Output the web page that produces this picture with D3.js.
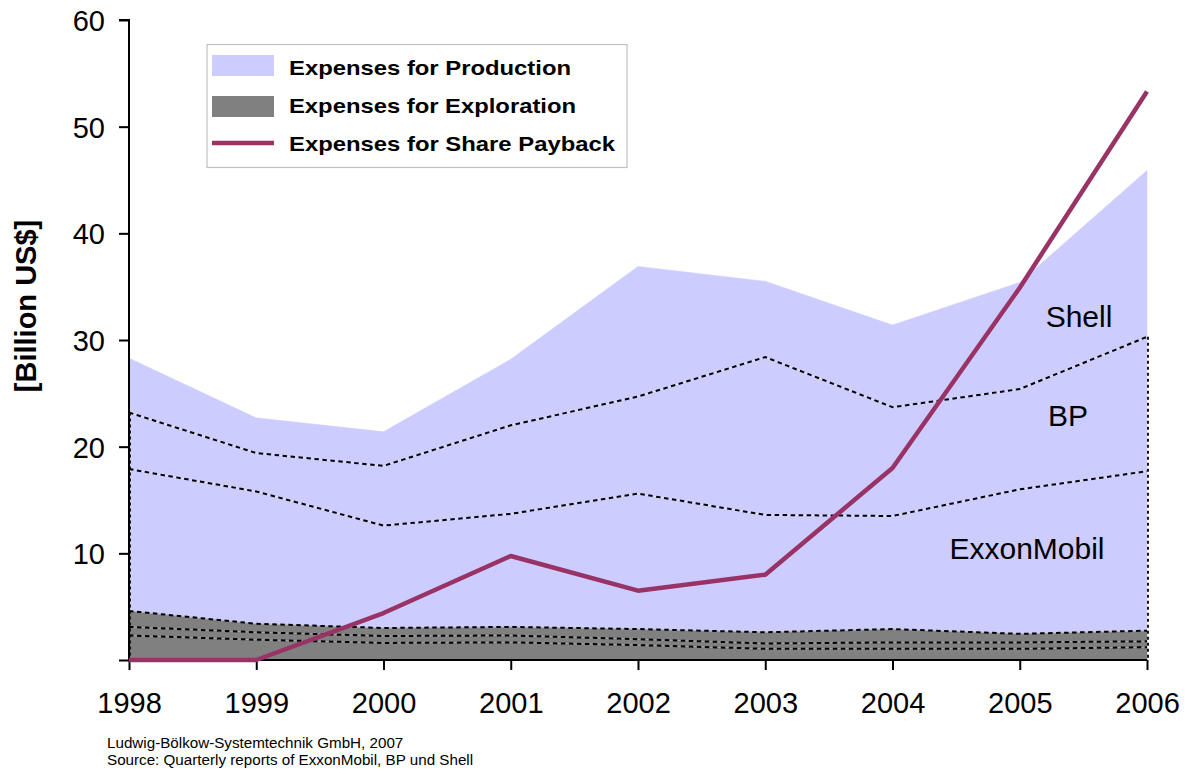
<!DOCTYPE html>
<html><head><meta charset="utf-8">
<script src="https://cdn.jsdelivr.net/npm/d3@7"></script>
<style>html,body{margin:0;padding:0;background:#fff;}svg{display:block;}</style>
</head><body>
<svg id="chart" width="1190" height="774"></svg>
<script>
const years = [1998,1999,2000,2001,2002,2003,2004,2005,2006];
const explExxon = [2.3,1.9,1.6,1.65,1.4,1.05,1.05,1.05,1.2];
const explBP    = [0.8,0.7,0.65,0.65,0.55,0.5,0.6,0.6,0.55];
const explShell = [1.5,0.8,0.75,0.8,0.95,1.05,1.25,0.8,1.0];
const prodExxon = [13.3,12.4,9.6,10.6,12.7,11.0,10.6,13.55,14.95];
const prodBP    = [5.3,3.6,5.6,8.3,9.1,14.8,10.2,9.4,12.6];
const prodShell = [5.1,3.3,3.2,6.2,12.2,7.1,7.7,10.0,15.6];
const sharePayback = [0,0,4.4,9.75,6.5,8.0,18.0,34.9,53.3];
const yTicks = [0,10,20,30,40,50,60];
const legendLabels = ["Expenses for Production","Expenses for Exploration","Expenses for Share Payback"];
const companyLabels = ["ExxonMobil","BP","Shell"];
const yTitle = "[Billion US$]";
const footer = ["Ludwig-Bölkow-Systemtechnik GmbH, 2007","Source: Quarterly reports of ExxonMobil, BP und Shell"];

const svg = d3.select("#chart");
const x = d3.scaleLinear().domain([1998,2006]).range([129,1147]);
const y = d3.scaleLinear().domain([0,60]).range([660,20]);

const keys = ["explExxon","explBP","explShell","prodExxon","prodBP","prodShell"];
const src = {explExxon,explBP,explShell,prodExxon,prodBP,prodShell};
const rows = years.map((yr,i)=>{const r={year:yr}; keys.forEach(k=>r[k]=src[k][i]); return r;});
const stacked = d3.stack().keys(keys)(rows);

const area = d3.area().x(d=>x(d.data.year)).y0(d=>y(d[0])).y1(d=>y(d[1]));
const lineTop = d3.line().x(d=>x(d.data.year)).y(d=>y(d[1]));
const fills = {explExxon:"#808080",explBP:"#808080",explShell:"#808080",prodExxon:"#ccccff",prodBP:"#ccccff",prodShell:"#ccccff"};

svg.append("g").selectAll("path").data(stacked).join("path")
  .attr("d",area).attr("fill",d=>fills[d.key]).attr("stroke",d=>fills[d.key]).attr("stroke-width",0.5);

// faint boundary + dashed lines at the top of every layer except the total
const inner = stacked.slice(0,5);
svg.append("g").selectAll("path").data(inner).join("path")
  .attr("d",lineTop).attr("fill","none").attr("stroke",(d,i)=>i<3?"#b0b0b0":"#e6e6ff").attr("stroke-width",0.8);
svg.append("g").selectAll("path").data(inner).join("path")
  .attr("d",lineTop).attr("fill","none").attr("stroke","#000").attr("stroke-width",2).attr("stroke-dasharray","4.5,3.5");

// dotted vertical edges
const topBP = stacked[4];
[0, years.length-1].forEach(i=>{
  svg.append("line").attr("x1",x(years[i])+1).attr("x2",x(years[i])+1)
    .attr("y1",y(topBP[i][1])).attr("y2",y(0))
    .attr("stroke","#000").attr("stroke-width",1.8).attr("stroke-dasharray","3,3");
});

// axes
const yAxis = d3.axisLeft(y).tickValues(yTicks).tickSize(10).tickPadding(14)
  .tickFormat(d=>d===0?"":d);
const gy = svg.append("g").attr("transform",`translate(${x(1998)},0)`).call(yAxis);
gy.select(".domain").attr("stroke","#000").attr("stroke-width",2).attr("d",`M-10,${y(60)}H0V${y(0)}`);
gy.selectAll(".tick line").attr("stroke","#000").attr("stroke-width",2);
gy.selectAll(".tick text").attr("font-family","'Liberation Sans',Arial,sans-serif").attr("font-size",29).attr("fill","#000").attr("dy","0.36em");

const xAxis = d3.axisBottom(x).tickValues(years).tickSize(10).tickPadding(22).tickFormat(d3.format("d"));
const gx = svg.append("g").attr("transform",`translate(0,${y(0)})`).call(xAxis);
gx.select(".domain").attr("stroke","#000").attr("stroke-width",2).attr("d",`M${x(1998)},0H${x(2006)}`);
gx.selectAll(".tick line").attr("stroke","#000").attr("stroke-width",2);
gx.selectAll(".tick text").attr("font-family","'Liberation Sans',Arial,sans-serif").attr("font-size",29).attr("fill","#000");

// share payback line
const shareLine = d3.line().x((d,i)=>x(years[i])).y(d=>y(d));
svg.append("path").datum(sharePayback).attr("d",shareLine).attr("fill","none")
  .attr("stroke","#993366").attr("stroke-width",4.5).attr("stroke-linejoin","round");

// company labels
const labelPos = [[1027,548],[1068,415],[1079,316]];
svg.append("g").selectAll("text").data(companyLabels).join("text")
  .attr("x",(d,i)=>labelPos[i][0]).attr("y",(d,i)=>labelPos[i][1]).attr("dy","0.36em")
  .attr("text-anchor","middle").attr("font-family","'Liberation Sans',Arial,sans-serif")
  .attr("font-size",30).attr("fill","#000").text(d=>d);

// y title
svg.append("text").attr("transform","translate(36,306) rotate(-90)").attr("text-anchor","middle")
  .attr("font-family","'Liberation Sans',Arial,sans-serif").attr("font-weight","bold").attr("font-size",29)
  .attr("fill","#000").text(yTitle);

// legend
const lg = svg.append("g");
lg.append("rect").attr("x",207).attr("y",44.5).attr("width",420).attr("height",123)
  .attr("fill","#fff").attr("stroke","#c0c0c0").attr("stroke-width",1.2);
lg.append("rect").attr("x",212).attr("y",55).attr("width",62).attr("height",21).attr("fill","#ccccff");
lg.append("rect").attr("x",212).attr("y",96).attr("width",62).attr("height",21).attr("fill","#808080");
lg.append("line").attr("x1",212).attr("x2",274).attr("y1",143).attr("y2",143).attr("stroke","#993366").attr("stroke-width",4.5);
const legW = [282,287,326];
lg.selectAll("text.l").data(legendLabels).join("text").attr("class","l")
  .attr("x",289).attr("y",(d,i)=>74.5+i*38)
  .attr("font-family","'Liberation Sans',Arial,sans-serif").attr("font-weight","bold").attr("font-size",21)
  .attr("textLength",(d,i)=>legW[i]).attr("lengthAdjust","spacingAndGlyphs")
  .attr("fill","#000").text(d=>d);

// footer
svg.append("g").selectAll("text").data(footer).join("text")
  .attr("x",107).attr("y",(d,i)=>748+i*17)
  .attr("font-family","'Liberation Sans',Arial,sans-serif").attr("font-size",15.2).attr("fill","#000").text(d=>d);
</script>
</body></html>
